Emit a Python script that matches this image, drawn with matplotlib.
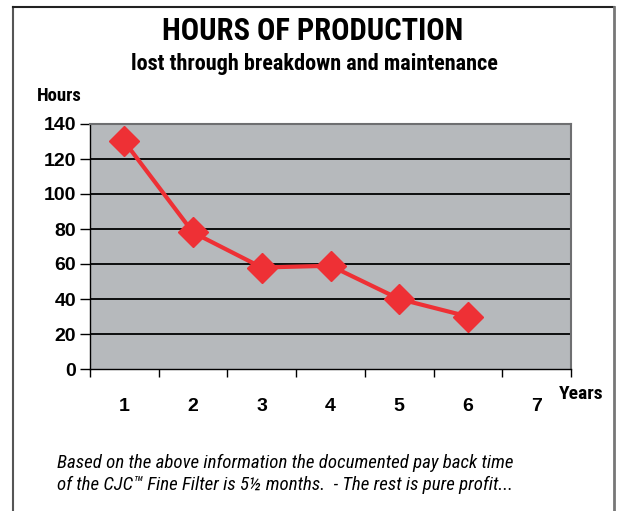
import matplotlib.pyplot as plt
import numpy as np

years = [1, 2, 3, 4, 5, 6]
hours = [130, 78, 58, 59, 40, 30]
year_labels = ["1", "2", "3", "4", "5", "6", "7"]
yticks = [0, 20, 40, 60, 80, 100, 120, 140]

narrow = ["Roboto Condensed", "Liberation Sans Narrow", "DejaVu Sans"]
arial = ["Liberation Sans", "DejaVu Sans"]
red = "#ee3035"

fig = plt.figure(figsize=(6.21, 5.11), dpi=100)
fig.patch.set_facecolor("white")

# outer frame (left, top, right)
fig.add_artist(plt.Line2D([13 / 621, 13 / 621], [0, 1 - 7 / 511], color="#555555", lw=1.5))
fig.add_artist(plt.Line2D([13 / 621, 614 / 621], [1 - 7 / 511, 1 - 7 / 511], color="#222222", lw=1.5))
fig.add_artist(plt.Line2D([614 / 621, 614 / 621], [0, 1 - 7 / 511], color="#777777", lw=2))

ax = fig.add_axes([90 / 621, 1 - 369 / 511, 481 / 621, 245 / 511])
ax.set_facecolor("#b6b9bc")
ax.set_xlim(0.5, 7.5)
ax.set_ylim(0, 140)

for y in yticks[1:-1]:
    ax.axhline(y, color="black", lw=1.3, zorder=1)

ax.plot(years, hours, color=red, lw=3, marker="D", markersize=15, zorder=3)

for s in ["left", "bottom"]:
    ax.spines[s].set_color("black")
    ax.spines[s].set_linewidth(1.0)
for s in ["top", "right"]:
    ax.spines[s].set_color("#6e6f71")
    ax.spines[s].set_linewidth(1.5)

ax.set_yticks(yticks)
ax.set_yticklabels([str(v) for v in yticks], fontsize=14, fontweight="bold", family=arial)
ax.tick_params(axis="y", length=7, width=1, direction="out", pad=3)

ax.set_xticks(np.arange(0.5, 8.0, 1.0))
ax.set_xticklabels([])
ax.set_xticks(np.arange(1, 8), minor=True)
ax.set_xticklabels(year_labels, minor=True, fontsize=14, fontweight="bold", family=arial)
ax.tick_params(axis="x", which="major", length=6, width=1, direction="out")
ax.tick_params(axis="x", which="minor", length=0, pad=21)

fig.text(313 / 621, 1 - 31 / 511, "HOURS OF PRODUCTION", ha="center", va="center",
         fontsize=22, fontweight="bold", family=narrow)
fig.text(314 / 621, 1 - 64 / 511, "lost through breakdown and maintenance", ha="center",
         va="center", fontsize=16, fontweight="bold", family=narrow)
fig.text(37 / 621, 1 - 96 / 511, "Hours", ha="left", va="center",
         fontsize=13.5, fontweight="bold", family=narrow)
fig.text(559 / 621, 1 - 394 / 511, "Years", ha="left", va="center",
         fontsize=14, fontweight="bold", family=narrow)
fig.text(57 / 621, 1 - 463 / 511, "Based on the above information the documented pay back time",
         ha="left", va="center", fontsize=13.6, style="italic", family=narrow)
fig.text(57 / 621, 1 - 485 / 511,
         "of the CJC\u2122 Fine Filter is 5\u00bd months.  - The rest is pure profit...",
         ha="left", va="center", fontsize=13.6, style="italic", family=narrow)

fig.savefig("out.png", dpi=100)
